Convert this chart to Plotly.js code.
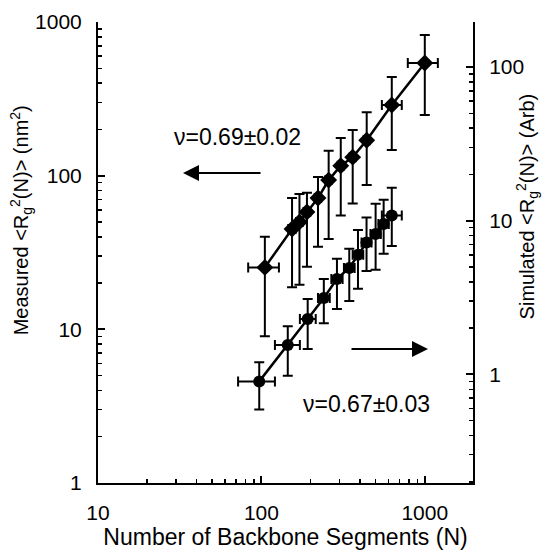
<!DOCTYPE html>
<html>
<head>
<meta charset="utf-8">
<script src="https://cdn.plot.ly/plotly-3.0.1.min.js"></script>
<style>html,body{margin:0;padding:0;background:#fff;}#chart{width:546px;height:556px;}</style>
</head>
<body>
<div id="chart"></div>
<script>
// Measured (left axis, diamonds)
const measN    = [105, 154, 171, 190, 222, 258, 306, 362, 441, 628, 1000];
const measR2   = [25.3, 45, 50, 58, 71.5, 93.6, 116, 132, 170, 288, 541];
const measHi   = [40, 71.5, 76, 77.5, 98, 145, 176, 198, 259, 438, 822];
const measLo   = [9.0, 18.8, 19.5, 25.5, 34.5, 38.7, 55, 66, 87, 147, 248];
const measNlo  = [83, 146, 163, 181, 212, 247, 293, 347, 422, 546, 787];
const measNhi  = [128, 162, 179, 199, 232, 269, 319, 377, 460, 723, 1202];

// Simulated (right axis, circles)
const simN     = [97, 145, 192, 241, 290, 345, 390, 440, 500, 560, 628];
const simR2    = [0.90, 1.55, 2.29, 3.14, 4.18, 4.93, 6.0, 7.2, 8.2, 9.5, 10.8];
const simHi    = [1.20, 2.06, 3.09, 4.18, 5.65, 6.56, 8.7, 10.5, 12.9, 13.7, 16.4];
const simLo    = [0.59, 0.98, 1.46, 2.15, 2.66, 3.0, 3.6, 4.7, 4.8, 6.1, 6.85];
const simNlo   = [72, 121, 172, 222, 268, 320, 362, 410, 465, 520, 546];
const simNhi   = [121, 172, 215, 262, 314, 372, 420, 472, 538, 602, 723];

const xTickVals = [10, 100, 1000];
const yTickVals = [1, 10, 100, 1000];
const y2TickVals = [1, 10, 100];

const measLabel = "\u03bd=0.69\u00b10.02";
const simLabel  = "\u03bd=0.67\u00b10.03";

const FONT = "Liberation Sans, Arial, Helvetica, sans-serif";
const diff = (a, b) => a.map((v, i) => v - b[i]);

// minor tick positions (2..9 times each decade)
function minorTicks(decades) {
  const out = [];
  decades.forEach(d => { for (let k = 2; k <= 9; k++) out.push(k * d); });
  return out;
}

const errStyle = {type: 'data', symmetric: false, color: '#000', thickness: 2, width: 5};

const traces = [
  {
    x: measN, y: measR2, type: 'scatter', mode: 'lines+markers', yaxis: 'y',
    line: {color: '#000', width: 2.5},
    marker: {symbol: 'diamond', size: 13, color: '#000'},
    error_y: Object.assign({}, errStyle, {array: diff(measHi, measR2), arrayminus: diff(measR2, measLo)}),
    error_x: Object.assign({}, errStyle, {array: diff(measNhi, measN), arrayminus: diff(measN, measNlo)}),
    showlegend: false
  },
  {
    x: simN, y: simR2, type: 'scatter', mode: 'lines+markers', yaxis: 'y2',
    line: {color: '#000', width: 2.5},
    marker: {symbol: 'circle', size: 12, color: '#000'},
    error_y: Object.assign({}, errStyle, {array: diff(simHi, simR2), arrayminus: diff(simR2, simLo)}),
    error_x: Object.assign({}, errStyle, {array: diff(simNhi, simN), arrayminus: diff(simN, simNlo)}),
    showlegend: false
  }
];

function axisCommon(minorVals) {
  return {
    type: 'log', showgrid: false, zeroline: false, showline: true, linecolor: '#000', linewidth: 2,
    ticks: 'inside', ticklen: 7, tickwidth: 2, tickcolor: '#000',
    tickformat: 'd', tickfont: {family: FONT, size: 21, color: '#000'},
    ticklabelstandoff: 10,
    minor: {ticks: 'inside', ticklen: 4, tickwidth: 1.5, tickcolor: '#000', tickmode: 'array', tickvals: minorVals, showgrid: false}
  };
}

const layout = {
  width: 546, height: 556,
  margin: {l: 98, r: 73, t: 22, b: 73},
  paper_bgcolor: '#fff', plot_bgcolor: '#fff',
  font: {family: FONT, color: '#000', size: 20},
  xaxis: Object.assign(axisCommon(minorTicks([10, 100])), {
    range: [1, 3.295], tickmode: 'array', tickvals: xTickVals,
    title: {text: 'Number of Backbone Segments (N)', font: {family: FONT, size: 23, color: '#000'}, standoff: 4}
  }),
  yaxis: Object.assign(axisCommon(minorTicks([1, 10, 100])), {
    range: [0, 3], tickmode: 'array', tickvals: yTickVals
  }),
  yaxis2: Object.assign(axisCommon(minorTicks([0.1, 1, 10, 100])), {
    range: [-0.707, 2.293], overlaying: 'y', side: 'right', tickmode: 'array', tickvals: y2TickVals
  }),
  annotations: [
    {xref: 'paper', yref: 'paper', x: -0.205, y: 0.57, xanchor: 'center', yanchor: 'middle', textangle: -90, showarrow: false,
     text: 'Measured &lt;R<sub>g</sub><sup>2</sup>(N)&gt; (nm<sup>2</sup>)', font: {family: FONT, size: 20, color: '#000'}},
    {xref: 'paper', yref: 'paper', x: 1.144, y: 0.60, xanchor: 'center', yanchor: 'middle', textangle: -90, showarrow: false,
     text: 'Simulated &lt;R<sub>g</sub><sup>2</sup>(N)&gt; (Arb)', font: {family: FONT, size: 20, color: '#000'}},
    {xref: 'paper', yref: 'paper', x: 0.3733, y: 0.7505, xanchor: 'center', yanchor: 'middle', showarrow: false,
     text: measLabel, font: {family: FONT, size: 23, color: '#000'}},
    {xref: 'paper', yref: 'paper', x: 0.7173, y: 0.1714, xanchor: 'center', yanchor: 'middle', showarrow: false,
     text: simLabel, font: {family: FONT, size: 23, color: '#000'}},
    {xref: 'paper', yref: 'paper', x: 0.2267, y: 0.6725, ax: 79, ay: 0, text: '', showarrow: true,
     arrowhead: 2, arrowsize: 1.6, arrowwidth: 2, arrowcolor: '#000'},
    {xref: 'paper', yref: 'paper', x: 0.88, y: 0.2907, ax: -78, ay: 0, text: '', showarrow: true,
     arrowhead: 2, arrowsize: 1.6, arrowwidth: 2, arrowcolor: '#000'}
  ]
};

Plotly.newPlot('chart', traces, layout, {displayModeBar: false, staticPlot: true});
</script>
</body>
</html>
